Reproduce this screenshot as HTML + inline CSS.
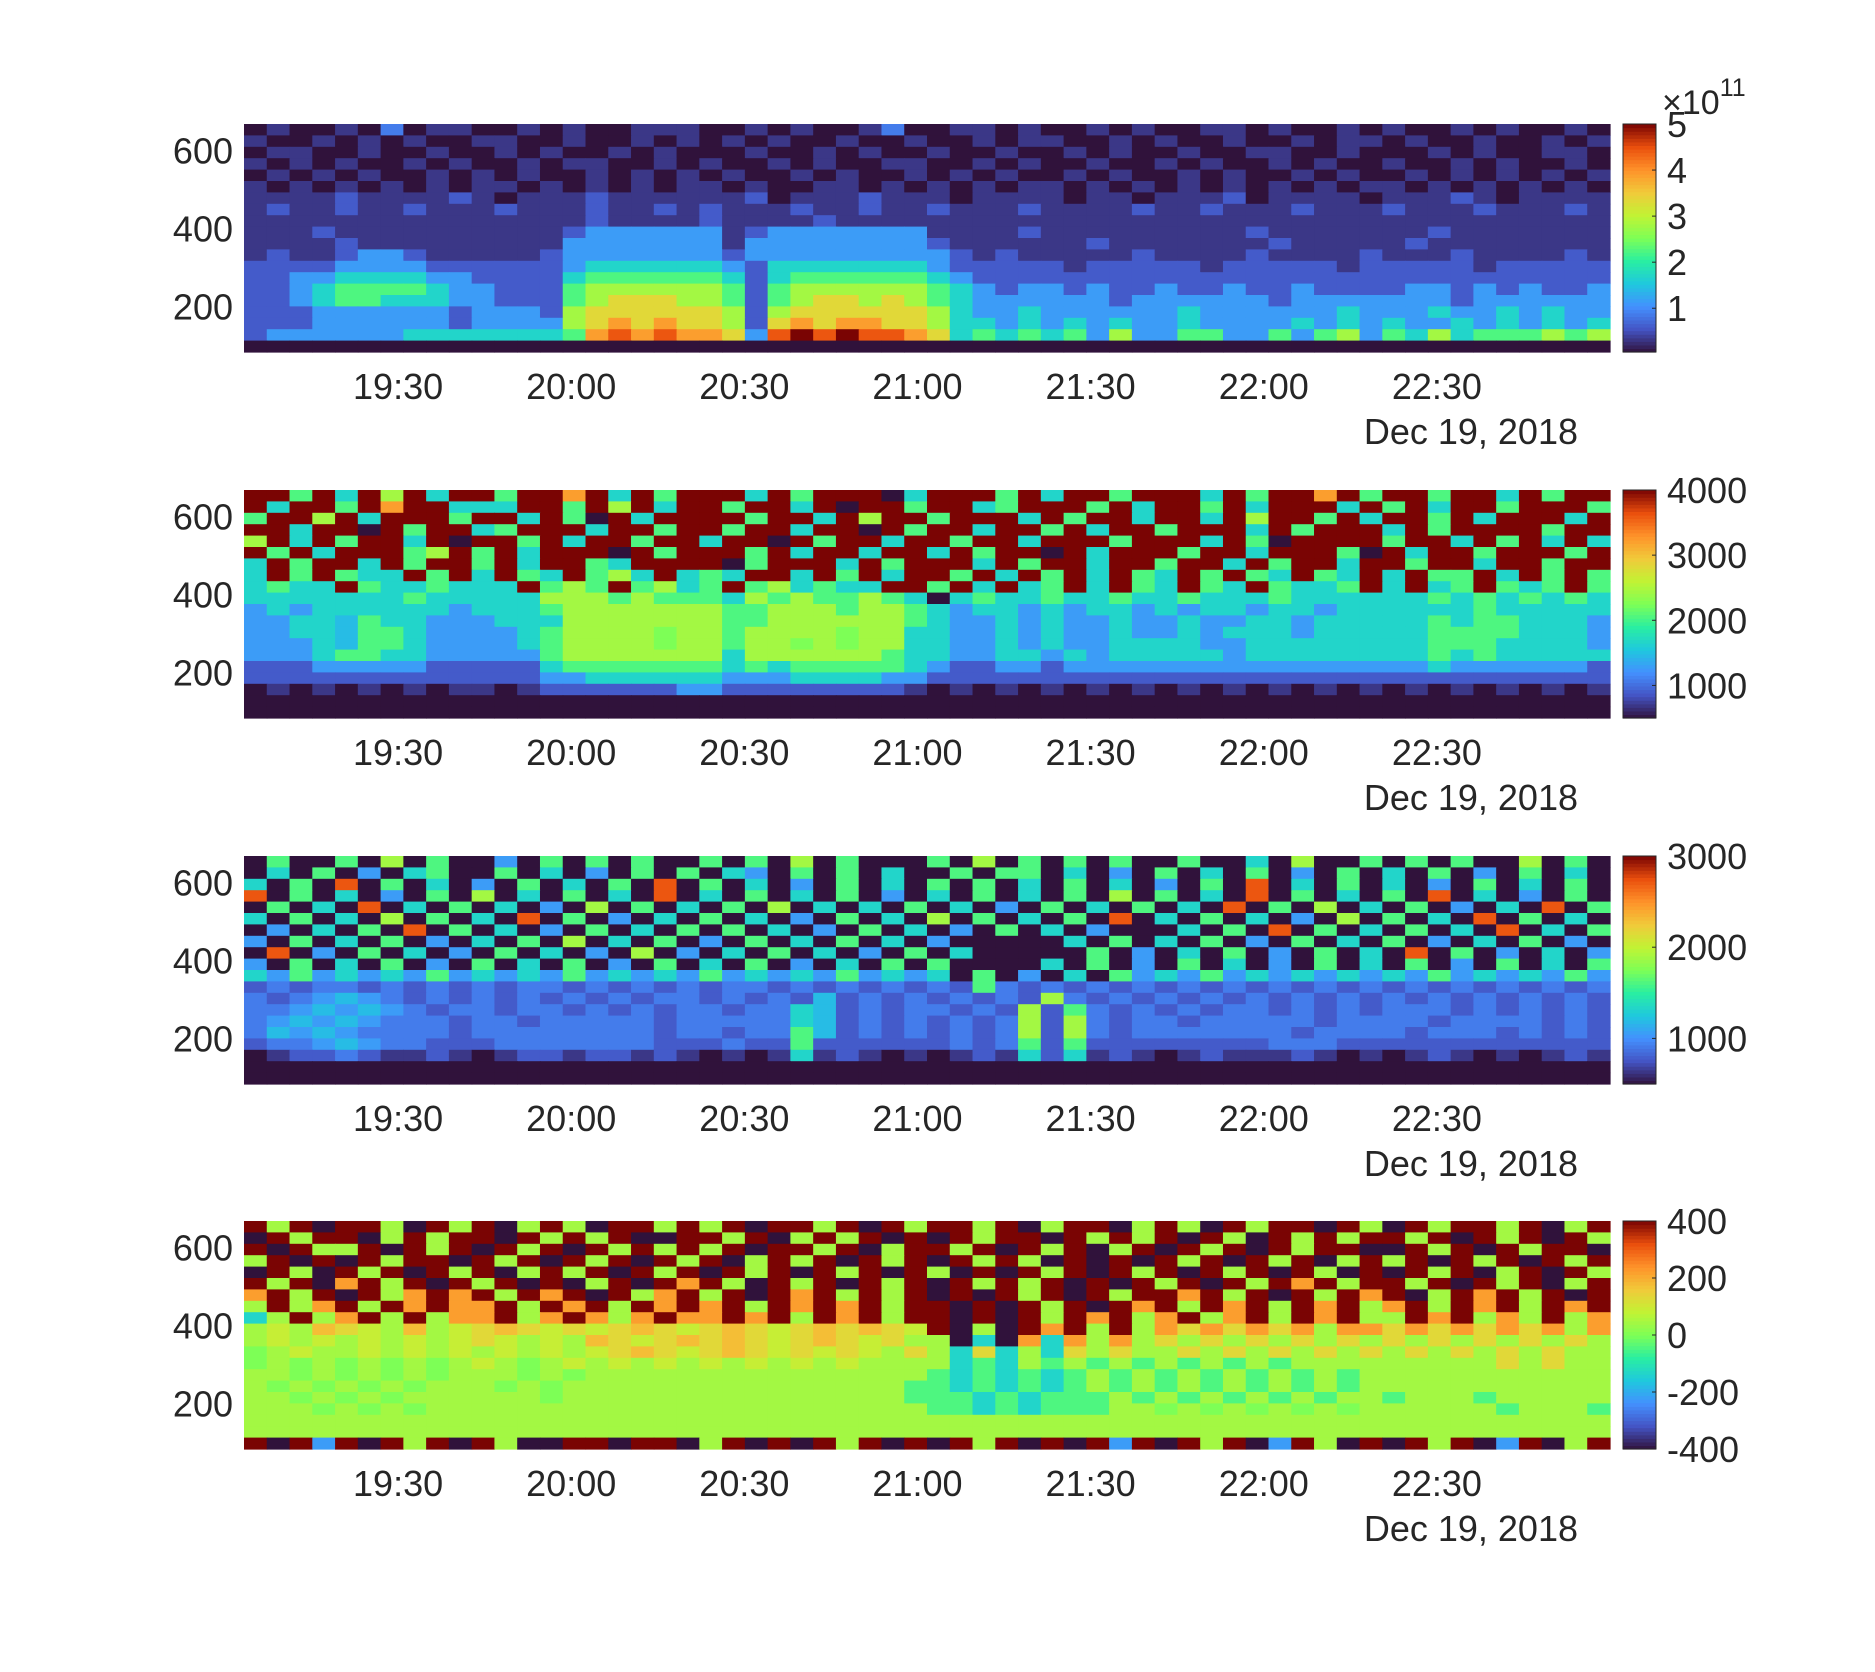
<!DOCTYPE html>
<html><head><meta charset="utf-8"><style>
html,body{margin:0;padding:0;background:#fff;}
svg text{font-family:"Liberation Sans",Arial,sans-serif;fill:#262626;}
</style></head><body>
<svg id="fig" width="1875" height="1667" viewBox="0 0 1875 1667" xmlns="http://www.w3.org/2000/svg"></svg>
<script>
// ---- data ----
const xTickLabels = ["19:30","20:00","20:30","21:00","21:30","22:00","22:30"];
const xTickMinutes = [30,60,90,120,150,180,210];
const yTicks = [200,400,600];
const timeRange = [3.3,240];   // minutes after 19:00
const altRange = [83,668];      // km
const cbRanges = [[0.05,5],[500,4000],[500,3000],[-400,400]];
const cbTicks1 = [1,2,3,4,5];
const cbTicks2 = [1000,2000,3000,4000];
const cbTicks3 = [1000,2000,3000];
const cbTicks4 = [-400,-200,0,200,400];
// level codes: "0a1b2c3d4e5f6g7h8i9" -> 19 levels from min to max
const grid1 = [
"0a00a0b0aa00a0a00aaa00a0a00ab00aa0a00a0a00aa0a00a0a00a0a00a0",
"a00a0a0a00aa00a00a0a0a0a00a00a00a0aa00a0a00a00a0aa0a00a00a0a",
"0aa00a00a00a0a00a0a000a00a0a00a00a00a0a00a00aa00a000a0a00aa0",
"a0a0a00a0a00a0aa00a0a00a0a00aa00a0a00a00a0a00a0a00a00a0a00a0",
"0a0a0a00a0a0a00a0a0a0a00a0a00a0a0a00a0a00a0a00a0a00a0a0a0a0a",
"a0a0a0a0a0aa0a0a0a0aa0a00aa0a0a0a0aa0a0a0a0a0a0a0aa0a0a0a0a0",
"aaaa1aaaa1a0aaa1aaaaaa10aaa1aaa0aaaa0aa0aaa10aaaa0aaa1a0aaaa",
"a1aa1aa1aaa1aaa1aa1a1aaa1aa1aa1aaa1aaaa1aa1aaa1aaa1aaa1aaa1a",
"aaaaaaaaaaaaaaa1aaaa1aaaa1aaaaaaaaaaaaaaaaaaaaaaaaaaaaaaaaaa",
"aaa1aaaaaaaaaa1222222a12222222aaaa1aaaaaaaaa1aaaaaaa1aaaaaaa",
"aaaa1aaaaaaaaa2222222a222222221aaaaaa1aaaaaaa1aaaaa1aaaaaaaa",
"a1aa1221aaaaa1222222212222222221a1aaaaa1aaaa1aaaa1aaa1aaaa1a",
"111122221111112333333213333333211111a11111a11111a11111a11111",
"112233332211113444444313444444321111111111111111111111111111",
"112344443221114555555414555555432122121121121121111221212112",
"112344333221114566655414566565432222221222222122222221222222",
"111222222122215666666515666666532232222223222222322232232322",
"111222222122225676766516767766533232323223222232323223232323",
"122222233333334787877628989887634343425224422424524353444545",
"000000000000000000000000000000000000000000000000000000000000"];
const grid2 = [
"994939593994997939499939499903999493994999394997949949939499",
"939949799333994959399499390994993499949399493999394939949994",
"499593999499394093999949939599499939499399395994939949399939",
"993990949934999399499499399094993994939949993949993949999499",
"593949939099493994993990949939949939994999394099994993949393",
"949399945949399909499949399399394990939994993999409399499949",
"394993949949399439999049993949993949939949939499399499399499",
"394943394939439453934399394939949394939439494394393944939494",
"343394334333945494534945343399493934939439439433493934943494",
"333333343333355545444354544543034334334334333433333343434343",
"232333333233345555555445554554323323233232332332333333433333",
"2233c4332223335555555445555554322323223223223323333343443332",
"2233c4432222345555e5545555e553322323223223233323333344443332",
"2223c4432222345555e55455e5e553322323223333223333333344433332",
"222344332222245555555355555543322332323333323333333343433333",
"111222221111134444444343444443211221222222222222222232222221",
"111111111111122333333222333322111111111111111111111111111111",
"0a0a0a0a0aa0a1111112211111111a0a0a0a0a0a0a0a0a0a0a0a0a0a0a0a",
"000000000000000000000000000000000000000000000000000000000000",
"000000000000000000000000000000000000000000000000000000000000"];
const grid3 = [
"040040504002040404004040504000405040404004003050040404005040",
"030402034004030204040320404030040440302040304020403040204030",
"304080403020403040804030204030404030403020408030403020403040",
"804030204050304030803040304020304030405040308040304080302040",
"040308030403020504030405030304030204030403080405030402030804",
"304030504030804020304030204030504030408030403020504030804030",
"020304080403020403040403020403020403020003040804030403080304",
"204030402030405030402040304030200000304030402040304020304020",
"080204030204030205020304030204030000040203040204030804020302",
"204030402040304020403040203040400003040204030204030402040304",
"324232324232324232324232324232304020304232423232323242323242",
"1b1bb1b1b1b1bb1b1b1b1bb1b1b1b1b14b1b1b1b1b1b1b1b1b1b1b1b1b1b",
"b1b2c2b1b1b1b1b1b1bb1b1b1c1b1b1b1b15b1b1b1b1b1b1b1b1b1b1b1b1",
"bb2c2c2b1bb1bb1b1b1bb1bb3c1b1bb1b1514b1b1b1bb1b1b1bbb1b1b1b1",
"b2c2c2bbb1bb1bbbbb1bbbbb3c1b1b1b1b515b1bb1bbbbb1bbbb1bbbb1b1",
"bc2c2bbbb1bbbbbbbb1bb1bb4c1b1b1b1b515b1bbbbbbb1bbbb1bbb1b1b1",
"1bb2c2bb111bbbbbbb111b114111111b1b41411111111bbb111111111111",
"0a11b1aa1a0a11a11a1a0a0a3a1a0a0a1a313a1a0a1aaa1a0a0a1a0a0a1a",
"000000000000000000000000000000000000000000000000000000000000",
"000000000000000000000000000000000000000000000000000000000000"];
const grid4 = [
"959099509590595099595909959095995905990595095990950959959059",
"095990595990959590099590595909095990959590950959599590959095",
"909559095909590959595909959059959095905909590959900959095990",
"590909599095909590959059590959095950909095909590595909590959",
"095095909590595909590959095909509095909590959095090959059095",
"959079590959090590979509590959095959090959095979599590959059",
"795909579795979095795909795959090959095997959095979059795909",
"595795979779597959797959797959909095909795979597957959795979",
"359579595779579757977979597959909095979579579597955979575957",
"5f5g6f5g5f6g6f6f6g6f6g6f6g6g6f905097959576767675776767676757",
"5f5f5f5f5f6f5f5g6f6g6g6f6g6f65503073757565656565656565656565",
"e5f55f5f5f5f5f5f6g6f6g6f6f6f56536353656556565656565656565655",
"e5e5e5e5e5f5e5f5f5f5f5f5f5f555534354545454545455555555565655",
"55e5e5e5e555e5e555555555555555434343454545454545455555555555",
"5e5e5e5e555e5e5555555555555554434343454545454545455555555555",
"55e5e5e555555e5555555555555554443434445454545454554555455555",
"555e5e5e55555555555555555555554434344455e5e5e5e5e55555545554",
"555555555555555555555555555555555555555555555555555555555555",
"555555555555555555555555555555555555555555555555555555555555",
"909290959095009909905909095909095909092909590295090959029059"];
const grids = [grid1,grid2,grid3,grid4];
const cbTickSets = [cbTicks1,cbTicks2,cbTicks3,cbTicks4];
const LEVELS = "0a1b2c3d4e5f6g7h8i9";

// ---- layout ----
const SVGNS="http://www.w3.org/2000/svg";
const svg=document.getElementById('fig');
const L=244,R=1610,H=228;
const tops=[124,490,856,1221];
const CBX=1623,CBW=33;
const TURBO=["#30123b","#4454c4","#4490fe","#1fc8de","#29efa2","#7dff56","#c1f334","#f1ca3a","#fe922a","#ea4f0d","#7a0403"];
const TRGB=TURBO.map(h=>[parseInt(h.slice(1,3),16),parseInt(h.slice(3,5),16),parseInt(h.slice(5,7),16)]);
function turbo(t){t=Math.max(0,Math.min(1,t));const f=t*10,i=Math.min(9,Math.floor(f)),u=f-i;
 const a=TRGB[i],b=TRGB[i+1];return `rgb(${Math.round(a[0]+(b[0]-a[0])*u)},${Math.round(a[1]+(b[1]-a[1])*u)},${Math.round(a[2]+(b[2]-a[2])*u)})`;}
function el(tag,attrs,parent){const e=document.createElementNS(SVGNS,tag);for(const k in attrs)e.setAttribute(k,attrs[k]);(parent||svg).appendChild(e);return e;}
function xScale(m){return L+(m-timeRange[0])/(timeRange[1]-timeRange[0])*(R-L);}

grids.forEach((grid,p)=>{
 const top=tops[p];
 const yScale=km=>top+H-(km-altRange[0])/(altRange[1]-altRange[0])*H;
 const [vmin,vmax]=cbRanges[p];
 const g=el('g',{});
 
 
 const nr=grid.length, rowKm=(altRange[1]-altRange[0])/nr;
 grid.forEach((row,i)=>{
  const nc=row.length, colMin=(timeRange[1]-timeRange[0])/nc;
  const y0=yScale(altRange[1]-i*rowKm), y1=yScale(altRange[1]-(i+1)*rowKm);
  for(let j=0;j<nc;j++){
   const d=Math.max(0,LEVELS.indexOf(row[j]));
   const v=vmin+d/18*(vmax-vmin);
   const x0=xScale(timeRange[0]+j*colMin), x1=xScale(timeRange[0]+(j+1)*colMin);
   const rc=el('rect',{x:x0.toFixed(2),y:y0.toFixed(2),width:(x1-x0+0.6).toFixed(2),height:(y1-y0+0.6).toFixed(2),fill:turbo((v-vmin)/(vmax-vmin))},g);
   
   
  }
 });
 yTicks.forEach(t=>{
  const tx=el('text',{x:233,y:yScale(t)+13,'font-size':36,'text-anchor':'end'});
  
  
  tx.textContent=t;
 });
 xTickMinutes.forEach((m,k)=>{
  const tx=el('text',{x:xScale(m),y:top+H+47,'font-size':36,'text-anchor':'middle'});
  
  
  tx.textContent=xTickLabels[k];
 });
 const dt=el('text',{x:1578,y:top+H+92,'font-size':36,'text-anchor':'end'});
 
 
 dt.textContent='Dec 19, 2018';
 const cb=el('g',{});
 
 
 const N=64;
 for(let k=0;k<N;k++){
  el('rect',{x:CBX,y:(top+H-(k+1)*H/N).toFixed(2),width:CBW,height:(H/N+0.6).toFixed(2),fill:turbo((k+0.5)/N)},cb);
 }
 el('rect',{x:CBX,y:top,width:CBW,height:H,fill:'none',stroke:'#262626','stroke-width':1},cb);
 cbTickSets[p].forEach(t=>{
  const y=top+H-(t-vmin)/(vmax-vmin)*H;
  el('line',{x1:CBX+CBW-4,x2:CBX+CBW,y1:y,y2:y,stroke:'#262626','stroke-width':1},cb);
  const tx=el('text',{x:1667,y:y+13,'font-size':36},cb);
  
  
  tx.textContent=t;
 });
});
const ex=el('text',{x:1662,y:114,'font-size':34});


ex.innerHTML='×10<tspan dy="-18" font-size="25">11</tspan>';
</script>
</body></html>
